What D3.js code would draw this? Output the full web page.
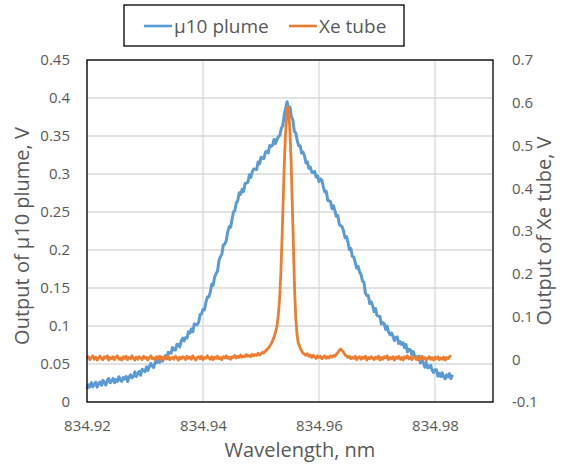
<!DOCTYPE html>
<html>
<head>
<meta charset="utf-8">
<script src="https://cdn.jsdelivr.net/npm/d3@7"></script>
<style>
  body { margin: 0; background: #fff; }
  text { font-family: "Open Sans", sans-serif; fill: #595959; }
</style>
</head>
<body>
<div id="chart"></div>
<script>
// series names
let seriesNames = ['µ10 plume', 'Xe tube'];

// ticks
let xTicks = [834.92, 834.94, 834.96, 834.98];
let yLeftTicks = [0, 0.05, 0.1, 0.15, 0.2, 0.25, 0.3, 0.35, 0.4, 0.45];
let yRightTicks = [-0.1, 0, 0.1, 0.2, 0.3, 0.4, 0.5, 0.6, 0.7];

// µ10 plume output (left axis) [wavelength nm, V]
let plume = [
  [834.92000,.0170],[834.92025,.0225],[834.92050,.0200],[834.92075,.0255],[834.92100,.0200],
  [834.92125,.0235],[834.92150,.0260],[834.92175,.0195],[834.92200,.0240],[834.92225,.0265],
  [834.92250,.0220],[834.92275,.0285],[834.92300,.0250],[834.92325,.0223],[834.92350,.0286],
  [834.92375,.0310],[834.92400,.0253],[834.92425,.0277],[834.92450,.0310],[834.92475,.0253],
  [834.92500,.0296],[834.92525,.0270],[834.92550,.0333],[834.92575,.0287],[834.92600,.0270],
  [834.92625,.0322],[834.92650,.0304],[834.92675,.0337],[834.92700,.0270],[834.92725,.0329],
  [834.92750,.0358],[834.92775,.0318],[834.92800,.0337],[834.92825,.0396],[834.92850,.0335],
  [834.92875,.0374],[834.92900,.0403],[834.92925,.0352],[834.92950,.0430],[834.92975,.0420],
  [834.93000,.0400],[834.93025,.0462],[834.93050,.0414],[834.93075,.0467],[834.93100,.0509],
  [834.93125,.0471],[834.93150,.0453],[834.93175,.0525],[834.93200,.0517],[834.93225,.0559],
  [834.93250,.0521],[834.93275,.0594],[834.93300,.0536],[834.93325,.0568],[834.93350,.0610],
  [834.93375,.0568],[834.93400,.0655],[834.93425,.0643],[834.93450,.0640],[834.93475,.0718],
  [834.93500,.0685],[834.93525,.0683],[834.93550,.0760],[834.93575,.0758],[834.93600,.0725],
  [834.93625,.0803],[834.93650,.0840],[834.93675,.0804],[834.93700,.0847],[834.93725,.0841],
  [834.93750,.0924],[834.93775,.0908],[834.93800,.0961],[834.93825,.0925],[834.93850,.1028],
  [834.93875,.1022],[834.93900,.1015],[834.93925,.1048],[834.93950,.1150],[834.93975,.1160],
  [834.94000,.1220],[834.94025,.1210],[834.94050,.1310],[834.94075,.1380],[834.94100,.1380],
  [834.94125,.1445],[834.94150,.1550],[834.94175,.1535],[834.94200,.1640],[834.94225,.1690],
  [834.94250,.1720],[834.94275,.1860],[834.94300,.1910],[834.94325,.1943],[834.94350,.2065],
  [834.94375,.2078],[834.94400,.2120],[834.94425,.2233],[834.94450,.2305],[834.94475,.2298],
  [834.94500,.2400],[834.94525,.2500],[834.94550,.2520],[834.94575,.2620],[834.94600,.2650],
  [834.94625,.2753],[834.94650,.2735],[834.94675,.2798],[834.94700,.2770],[834.94725,.2875],
  [834.94750,.2880],[834.94775,.2895],[834.94800,.2990],[834.94825,.2955],[834.94850,.3030],
  [834.94875,.3067],[834.94900,.3063],[834.94925,.3060],[834.94950,.3157],[834.94975,.3134],
  [834.95000,.3220],[834.95025,.3208],[834.95050,.3205],[834.95075,.3283],[834.95100,.3300],
  [834.95125,.3278],[834.95150,.3375],[834.95175,.3363],[834.95200,.3380],[834.95225,.3455],
  [834.95250,.3400],[834.95275,.3455],[834.95300,.3490],[834.95325,.3510],[834.95350,.3600],
  [834.95375,.3635],[834.95400,.3770],[834.95425,.3865],[834.95450,.3950],[834.95475,.3845],
  [834.95500,.3880],[834.95525,.3755],[834.95550,.3710],[834.95575,.3560],[834.95600,.3540],
  [834.95625,.3440],[834.95650,.3370],[834.95675,.3373],[834.95700,.3275],[834.95725,.3288],
  [834.95750,.3240],[834.95775,.3145],[834.95800,.3160],[834.95825,.3075],[834.95850,.3090],
  [834.95875,.3025],[834.95900,.3020],[834.95925,.3035],[834.95950,.2960],[834.95975,.2975],
  [834.96000,.2900],[834.96025,.2935],[834.96050,.2920],[834.96075,.2828],[834.96100,.2765],
  [834.96125,.2773],[834.96150,.2650],[834.96175,.2648],[834.96200,.2635],[834.96225,.2543],
  [834.96250,.2580],[834.96275,.2515],[834.96300,.2440],[834.96325,.2455],[834.96350,.2340],
  [834.96375,.2318],[834.96400,.2305],[834.96425,.2243],[834.96450,.2160],[834.96475,.2175],
  [834.96500,.2100],[834.96525,.2005],[834.96550,.2020],[834.96575,.1915],[834.96600,.1910],
  [834.96625,.1835],[834.96650,.1760],[834.96675,.1785],[834.96700,.1710],[834.96725,.1675],
  [834.96750,.1590],[834.96775,.1575],[834.96800,.1430],[834.96825,.1400],[834.96850,.1400],
  [834.96875,.1294],[834.96900,.1317],[834.96925,.1269],[834.96950,.1190],[834.96975,.1229],
  [834.97000,.1138],[834.97025,.1128],[834.97050,.1127],[834.97075,.1026],[834.97100,.1045],
  [834.97125,.1029],[834.97150,.0953],[834.97175,.0998],[834.97200,.0922],[834.97225,.0886],
  [834.97250,.0910],[834.97275,.0864],[834.97300,.0808],[834.97325,.0852],[834.97350,.0855],
  [834.97375,.0769],[834.97400,.0793],[834.97425,.0757],[834.97450,.0780],[834.97475,.0714],
  [834.97500,.0757],[834.97525,.0660],[834.97550,.0693],[834.97575,.0687],[834.97600,.0620],
  [834.97625,.0663],[834.97650,.0605],[834.97675,.0598],[834.97700,.0560],[834.97725,.0603],
  [834.97750,.0515],[834.97775,.0548],[834.97800,.0520],[834.97825,.0457],[834.97850,.0513],
  [834.97875,.0450],[834.97900,.0457],[834.97925,.0484],[834.97950,.0420],[834.97975,.0388],
  [834.98000,.0425],[834.98025,.0423],[834.98050,.0340],[834.98075,.0378],[834.98100,.0335],
  [834.98125,.0383],[834.98150,.0330],[834.98175,.0304],[834.98200,.0357],[834.98225,.0330],
  [834.98250,.0373],[834.98275,.0307],[834.98300,.0360]
];

// Xe tube output (right axis) [wavelength nm, V]
let xeTube = [
  [834.92000,.001],[834.92025,.006],[834.92050,-.001],[834.92075,.004],[834.92100,.008],
  [834.92125,.000],[834.92150,.005],[834.92175,-.002],[834.92200,.003],[834.92225,.007],
  [834.92250,.001],[834.92275,-.001],[834.92300,.006],[834.92325,.003],[834.92350,.008],
  [834.92375,-.002],[834.92400,.004],[834.92425,.001],[834.92450,.006],[834.92475,-.001],
  [834.92500,.005],[834.92525,.008],[834.92550,.000],[834.92575,.003],[834.92600,-.002],
  [834.92625,.006],[834.92650,.002],[834.92675,.007],[834.92700,-.001],[834.92725,.004],
  [834.92750,.001],[834.92775,.008],[834.92800,.003],[834.92825,-.002],[834.92850,.005],
  [834.92875,.000],[834.92900,.006],[834.92925,.003],[834.92950,-.001],[834.92975,.007],
  [834.93000,.002],[834.93025,.005],[834.93050,-.002],[834.93075,.004],[834.93100,.008],
  [834.93125,.001],[834.93150,.003],[834.93175,-.001],[834.93200,.006],[834.93225,.002],
  [834.93250,.007],[834.93275,-.002],[834.93300,.004],[834.93325,.000],[834.93350,.006],
  [834.93375,.003],[834.93400,.008],[834.93425,-.001],[834.93450,.002],[834.93475,.005],
  [834.93500,.000],[834.93525,.007],[834.93550,.003],[834.93575,-.002],[834.93600,.005],
  [834.93625,.001],[834.93650,.006],[834.93675,.004],[834.93700,-.001],[834.93725,.007],
  [834.93750,.002],[834.93775,.005],[834.93800,.000],[834.93825,.008],[834.93850,.003],
  [834.93875,-.002],[834.93900,.004],[834.93925,.006],[834.93950,.001],[834.93975,.007],
  [834.94000,-.001],[834.94025,.004],[834.94050,.002],[834.94075,.008],[834.94100,.003],
  [834.94125,.000],[834.94150,.006],[834.94175,-.001],[834.94200,.005],[834.94225,.002],
  [834.94250,.007],[834.94275,.001],[834.94300,.004],[834.94325,-.001],[834.94350,.006],
  [834.94375,.003],[834.94400,.008],[834.94425,.002],[834.94450,.005],[834.94475,.000],
  [834.94500,.006],[834.94525,.004],[834.94550,.009],[834.94575,.003],[834.94600,.007],
  [834.94625,.004],[834.94650,.010],[834.94675,.005],[834.94700,.008],[834.94725,.006],
  [834.94750,.011],[834.94775,.007],[834.94800,.009],[834.94825,.006],[834.94850,.012],
  [834.94875,.008],[834.94900,.011],[834.94925,.009],[834.94950,.014],[834.94975,.010],
  [834.95000,.013],[834.95025,.016],[834.95050,.015],[834.95075,.019],[834.95100,.022],
  [834.95125,.026],[834.95150,.030],[834.95175,.036],[834.95200,.043],[834.95220,.050],
  [834.95240,.058],[834.95260,.068],[834.95280,.082],[834.95300,.105],[834.95320,.140],
  [834.95340,.195],[834.95360,.270],[834.95380,.360],[834.95400,.450],[834.95420,.520],
  [834.95440,.565],[834.95460,.590],[834.95480,.575],[834.95500,.530],[834.95520,.460],
  [834.95540,.360],[834.95560,.260],[834.95580,.160],[834.95600,.095],[834.95620,.060],
  [834.95640,.040],[834.95670,.028],[834.95700,.020],[834.95725,.014],
  [834.95750,.012],[834.95775,.009],[834.95800,.013],[834.95825,.007],[834.95850,.010],
  [834.95875,.004],[834.95900,.009],[834.95925,.006],[834.95950,.002],[834.95975,.008],
  [834.96000,.004],[834.96025,.007],[834.96050,.001],[834.96075,.005],[834.96100,.008],
  [834.96125,.002],[834.96150,.006],[834.96175,.003],[834.96200,.008],[834.96225,.005],
  [834.96250,.009],[834.96275,.007],[834.96300,.012],[834.96325,.015],[834.96350,.021],
  [834.96375,.024],[834.96400,.020],[834.96425,.016],[834.96450,.010],[834.96475,.008],
  [834.96500,.004],[834.96525,.007],[834.96550,.001],[834.96575,.005],[834.96600,.002],
  [834.96625,.007],[834.96650,-.001],[834.96675,.004],[834.96700,.006],[834.96725,.000],
  [834.96750,.005],[834.96775,.002],[834.96800,.007],[834.96825,-.002],[834.96850,.004],
  [834.96875,.001],[834.96900,.006],[834.96925,.003],[834.96950,-.001],[834.96975,.005],
  [834.97000,.002],[834.97025,.007],[834.97050,-.002],[834.97075,.004],[834.97100,.000],
  [834.97125,.006],[834.97150,.003],[834.97175,.008],[834.97200,-.001],[834.97225,.004],
  [834.97250,.001],[834.97275,.006],[834.97300,-.002],[834.97325,.005],[834.97350,.002],
  [834.97375,.007],[834.97400,.000],[834.97425,.004],[834.97450,-.002],[834.97475,.006],
  [834.97500,.003],[834.97525,.008],[834.97550,.001],[834.97575,.005],[834.97600,-.001],
  [834.97625,.004],[834.97650,.006],[834.97675,.000],[834.97700,.005],[834.97725,-.002],
  [834.97750,.003],[834.97775,.007],[834.97800,.001],[834.97825,.004],[834.97850,-.003],
  [834.97875,.002],[834.97900,.006],[834.97925,.000],[834.97950,.004],[834.97975,-.002],
  [834.98000,.005],[834.98025,.001],[834.98050,.006],[834.98075,-.001],[834.98100,.003],
  [834.98125,.000],[834.98150,.005],[834.98175,-.002],[834.98200,.004],[834.98225,.001],
  [834.98250,.006],[834.98275,.009]
];

let colors = ['#5B9BD5', '#ED7D31'];

// svg / plot area configuration
let config = {
    svg: {width: 562, height: 464},
    plot: {left: 87, top: 60, right: 493, bottom: 402}
};

let svg = d3.select('#chart')
    .append('svg')
        .attr('width', config.svg.width)
        .attr('height', config.svg.height);

let x = d3.scaleLinear()
    .domain([834.92, 834.99])
    .range([config.plot.left, config.plot.right]);

let yLeft = d3.scaleLinear()
    .domain([0, 0.45])
    .range([config.plot.bottom, config.plot.top]);

let yRight = d3.scaleLinear()
    .domain([-0.1, 0.7])
    .range([config.plot.bottom, config.plot.top]);

// gridlines
let grid = svg.append('g').attr('class', 'grid');
grid.selectAll('line.h')
    .data(yLeftTicks)
    .join('line')
        .attr('class', 'h')
        .attr('x1', config.plot.left).attr('x2', config.plot.right)
        .attr('y1', d => yLeft(d)).attr('y2', d => yLeft(d))
        .attr('stroke', '#d9d9d9').attr('stroke-width', 1.3);
grid.selectAll('line.v')
    .data(xTicks)
    .join('line')
        .attr('class', 'v')
        .attr('x1', d => x(d)).attr('x2', d => x(d))
        .attr('y1', config.plot.top).attr('y2', config.plot.bottom)
        .attr('stroke', '#d9d9d9').attr('stroke-width', 1.3);

// axes (labels only, Excel style)
let fmt = d => String(+d.toFixed(3));

let styleTicks = g => g.selectAll('text')
    .attr('font-size', 15)
    .attr('font-family', null)
    .attr('fill', '#595959');

let xAxis = g => g
    .attr('transform', `translate(0,${config.plot.bottom})`)
    .call(d3.axisBottom(x).tickValues(xTicks).tickSize(0).tickPadding(18).tickFormat(d3.format('.2f')))
    .call(g => g.select('.domain').remove())
    .call(styleTicks);

let yLeftAxis = g => g
    .attr('transform', `translate(${config.plot.left},0)`)
    .call(d3.axisLeft(yLeft).tickValues(yLeftTicks).tickSize(0).tickPadding(17).tickFormat(fmt))
    .call(g => g.select('.domain').remove())
    .call(styleTicks);

let yRightAxis = g => g
    .attr('transform', `translate(${config.plot.right},0)`)
    .call(d3.axisRight(yRight).tickValues(yRightTicks).tickSize(0).tickPadding(19).tickFormat(fmt))
    .call(g => g.select('.domain').remove())
    .call(styleTicks);

svg.append('g').call(xAxis);
svg.append('g').call(yLeftAxis);
svg.append('g').call(yRightAxis);

// series lines
let linePlume = d3.line()
    .x(d => x(d[0]))
    .y(d => yLeft(d[1]));

let lineXe = d3.line()
    .x(d => x(d[0]))
    .y(d => yRight(d[1]));

svg.append('path')
    .datum(plume)
    .attr('fill', 'none')
    .attr('stroke', colors[0])
    .attr('stroke-width', 3)
    .attr('stroke-linejoin', 'round')
    .attr('d', linePlume);

svg.append('path')
    .datum(xeTube)
    .attr('fill', 'none')
    .attr('stroke', colors[1])
    .attr('stroke-width', 2.8)
    .attr('stroke-linejoin', 'round')
    .attr('d', lineXe);

// plot border
svg.append('rect')
    .attr('x', config.plot.left)
    .attr('y', config.plot.top)
    .attr('width', config.plot.right - config.plot.left)
    .attr('height', config.plot.bottom - config.plot.top)
    .attr('fill', 'none')
    .attr('stroke', '#000')
    .attr('stroke-width', 1.3);

// axis titles
svg.append('text')
    .attr('x', 300).attr('y', 457)
    .attr('text-anchor', 'middle')
    .attr('font-size', 20)
    .text('Wavelength, nm');

svg.append('text')
    .attr('transform', 'translate(29,236) rotate(-90)')
    .attr('text-anchor', 'middle')
    .attr('font-size', 20)
    .text('Output of µ10 plume, V');

svg.append('text')
    .attr('transform', 'translate(551,231) rotate(-90)')
    .attr('text-anchor', 'middle')
    .attr('font-size', 20)
    .text('Output of Xe tube, V');

// legend
let legend = svg.append('g');
legend.append('rect')
    .attr('x', 124).attr('y', 5)
    .attr('width', 280).attr('height', 41)
    .attr('fill', '#fff')
    .attr('stroke', '#000')
    .attr('stroke-width', 1.3);

let legendItems = legend.selectAll('g.item')
    .data(seriesNames)
    .join('g')
        .attr('class', 'item')
        .attr('transform', (d, i) => `translate(${[144, 289][i]},26)`);

legendItems.append('line')
    .attr('x1', 0).attr('x2', 28)
    .attr('stroke', (d, i) => colors[i])
    .attr('stroke-width', 2.6);

legendItems.append('text')
    .attr('x', 30)
    .attr('dy', '0.35em')
    .attr('font-size', 19)
    .text(d => d);
</script>
</body>
</html>
